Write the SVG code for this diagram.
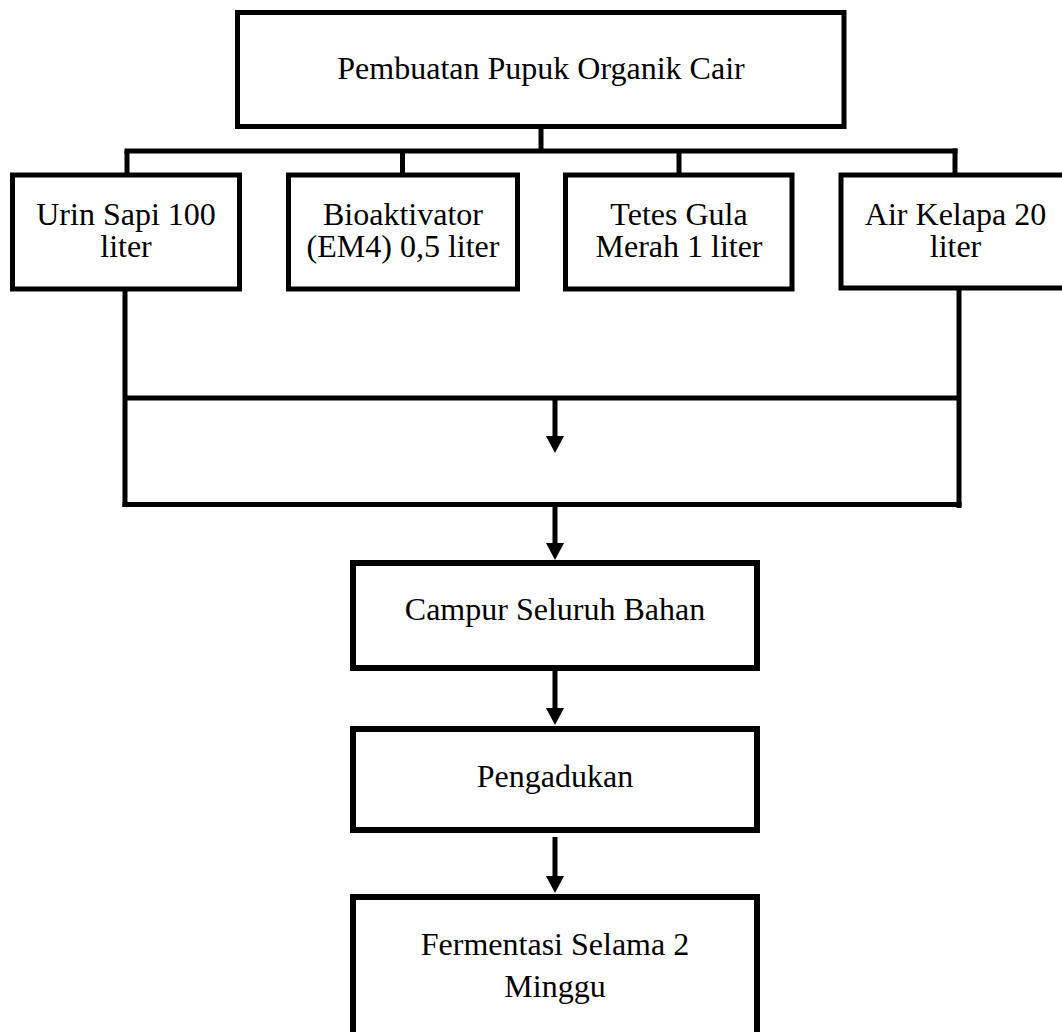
<svg xmlns="http://www.w3.org/2000/svg" width="1062" height="1032" viewBox="0 0 1062 1032">
  <style>
    .box { fill: #ffffff; stroke: #000000; stroke-width: 5; }
    .box6 { fill: #ffffff; stroke: #000000; stroke-width: 6; }
    .ln { fill: none; stroke: #000000; stroke-width: 5; }
    .t { font-family: "Liberation Serif", "Times New Roman", serif; font-size: 32px; fill: #000000; text-anchor: middle; }
  </style>
  <defs>
    <marker id="ah" viewBox="0 0 17 18" refX="2" refY="9" markerWidth="17" markerHeight="18" markerUnits="userSpaceOnUse" orient="auto">
      <path d="M0,0 L17,9 L0,18 z" fill="#000000"/>
    </marker>
  </defs>
  <rect width="1062" height="1032" fill="#ffffff"/>

  <g id="connectors">
    <line class="ln" x1="541" y1="126" x2="541" y2="151"/>
    <line class="ln" x1="124.5" y1="151" x2="957.5" y2="151"/>
    <line class="ln" x1="127" y1="151" x2="127" y2="175"/>
    <line class="ln" x1="402.5" y1="151" x2="402.5" y2="175"/>
    <line class="ln" x1="679" y1="151" x2="679" y2="175"/>
    <line class="ln" x1="955" y1="148.5" x2="955" y2="175"/>
    <line class="ln" x1="125" y1="289" x2="125" y2="507"/>
    <line class="ln" x1="959" y1="288" x2="959" y2="508"/>
    <line class="ln" x1="125" y1="398" x2="959" y2="398"/>
    <line class="ln" x1="122.5" y1="504.5" x2="961.5" y2="504.5"/>
    <line class="ln" x1="555" y1="398" x2="555" y2="438" marker-end="url(#ah)"/>
    <line class="ln" x1="555" y1="505" x2="555" y2="545" marker-end="url(#ah)"/>
    <line class="ln" x1="555" y1="669" x2="555" y2="710" marker-end="url(#ah)"/>
    <line class="ln" x1="555" y1="837" x2="555" y2="878" marker-end="url(#ah)"/>
  </g>

  <g id="node-top">
    <rect class="box" x="237.5" y="12.5" width="606.5" height="114"/>
    <text class="t" x="541" y="79">Pembuatan Pupuk Organik Cair</text>
  </g>

  <g id="node-urin">
    <rect class="box" x="12.5" y="175" width="227" height="114"/>
    <text class="t" x="126" y="224.5">Urin Sapi 100</text>
    <text class="t" x="126" y="257">liter</text>
  </g>

  <g id="node-bioaktivator">
    <rect class="box" x="288.5" y="175" width="229" height="114"/>
    <text class="t" x="403" y="224.5">Bioaktivator</text>
    <text class="t" x="403" y="257">(EM4) 0,5 liter</text>
  </g>

  <g id="node-tetes">
    <rect class="box" x="565.5" y="175" width="226.5" height="114"/>
    <text class="t" x="679" y="224.5">Tetes Gula</text>
    <text class="t" x="679" y="257">Merah 1 liter</text>
  </g>

  <g id="node-air">
    <rect class="box" x="841" y="175" width="228" height="113"/>
    <text class="t" x="955.5" y="224.5">Air Kelapa 20</text>
    <text class="t" x="955.5" y="257">liter</text>
  </g>

  <g id="node-campur">
    <rect class="box6" x="353" y="563" width="404" height="105"/>
    <text class="t" x="555" y="620">Campur Seluruh Bahan</text>
  </g>

  <g id="node-pengadukan">
    <rect class="box6" x="353" y="729" width="404" height="101"/>
    <text class="t" x="555" y="786.5">Pengadukan</text>
  </g>

  <g id="node-fermentasi">
    <rect class="box6" x="353" y="897" width="404" height="150"/>
    <text class="t" x="555" y="955">Fermentasi Selama 2</text>
    <text class="t" x="555" y="996.5">Minggu</text>
  </g>
</svg>
